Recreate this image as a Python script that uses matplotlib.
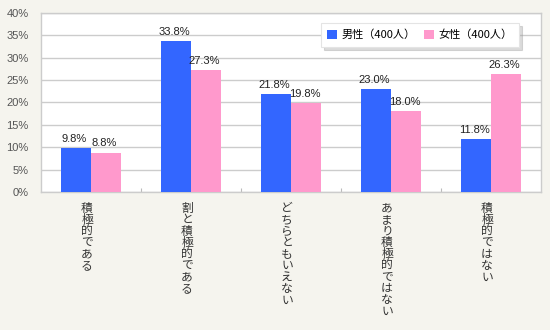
import matplotlib
matplotlib.use("Agg")
import matplotlib.pyplot as plt
import matplotlib.transforms as mtransforms
import numpy as np

plt.rcParams['font.family'] = ['Noto Sans CJK JP', 'DejaVu Sans']

categories = ["積極的である", "割と積極的である", "どちらともいえない", "あまり積極的ではない", "積極的ではない"]
male = [9.8, 33.8, 21.8, 23.0, 11.8]
female = [8.8, 27.3, 19.8, 18.0, 26.3]
series_names = ["男性（400人）", "女性（400人）"]
yticks = [0, 5, 10, 15, 20, 25, 30, 35, 40]

bg = "#f5f4ee"
blue = "#3366ff"
pink = "#ff99cc"
num_font = ["Liberation Sans", "DejaVu Sans"]

fig = plt.figure(figsize=(5.5, 3.3), dpi=100, facecolor=bg)
ax = fig.add_axes([41/550, 1 - 192/330, 500/550, 179/330])
ax.set_facecolor("white")

x = np.arange(len(categories))
w = 0.3
b1 = ax.bar(x - w/2, male, w, color=blue, label=series_names[0], zorder=3)
b2 = ax.bar(x + w/2, female, w, color=pink, label=series_names[1], zorder=3)

for bars, vals in ((b1, male), (b2, female)):
    for r, v in zip(bars, vals):
        ax.annotate(f"{v:.1f}%", (r.get_x() + r.get_width()/2, v), xytext=(-1, 3),
                    textcoords="offset points", ha="center", va="bottom",
                    fontsize=8, family=num_font, color="#222222", zorder=4)

ax.set_xlim(-0.5, len(categories) - 0.5)
ax.set_ylim(0, 40)
ax.set_yticks(yticks)
ax.set_yticklabels([f"{t}%" for t in yticks], family=num_font)
ax.tick_params(axis="y", length=0, pad=9, labelsize=8, labelcolor="#555555")
ax.set_xticks(np.arange(len(categories) - 1) + 0.5)
ax.set_xticklabels([])
ax.tick_params(axis="x", direction="in", length=3, color="#bbbbbb")
ax.grid(axis="y", color="#cccccc", linewidth=1, zorder=0)
for s in ax.spines.values():
    s.set_color("#cccccc")
    s.set_linewidth(1)

# vertical (tategaki) category labels, one character per row
for i, lab in enumerate(categories):
    for j, ch in enumerate(lab):
        tr = mtransforms.offset_copy(ax.get_xaxis_transform(), fig=fig,
                                     x=-4, y=-(16 + j * 11.5), units="dots")
        ax.text(i, 0, ch, transform=tr, ha="center", va="center",
                fontsize=8.5, color="#333333")

leg = ax.legend(loc="upper right", bbox_to_anchor=(0.956, 0.944), borderaxespad=0,
                ncol=2, fontsize=8, frameon=True, fancybox=False,
                shadow={"color": "#999999", "alpha": 0.35, "ox": 2, "oy": -2},
                edgecolor="#e4e4e4", framealpha=1,
                handlelength=0.9, handleheight=0.9, handletextpad=0.4, columnspacing=0.7,
                borderpad=0.6)
leg.get_frame().set_linewidth(0.8)

fig.savefig("out.png", dpi=100, facecolor=bg)
